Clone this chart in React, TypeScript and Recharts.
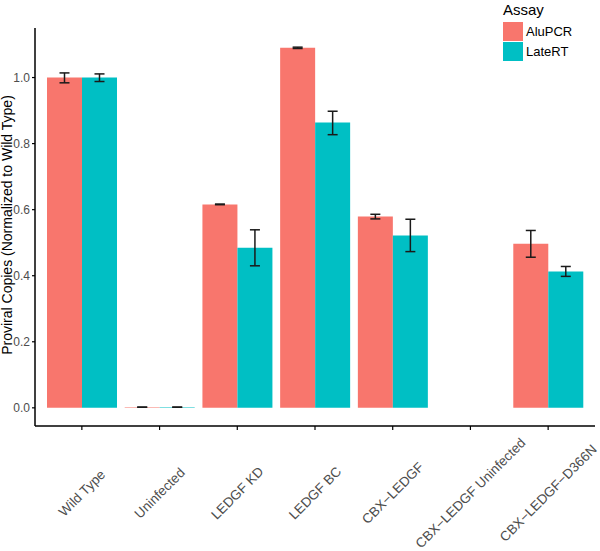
import { Bar, BarChart, ErrorBar, Legend, XAxis, YAxis } from 'recharts'

const groups = [
  'Wild Type',
  'Uninfected',
  'LEDGF KD',
  'LEDGF BC',
  'CBX\u2212LEDGF',
  'CBX\u2212LEDGF Uninfected',
  'CBX\u2212LEDGF\u2212D366N'
]

// bar heights
const aluPCR = [1.0, 0.002, 0.616, 1.09, 0.579, null, 0.497]
const lateRT = [1.0, 0.002, 0.485, 0.864, 0.522, null, 0.413]

// error bar ends [low, high]
const aluRange = [
  [0.984, 1.014],
  [0.002, 0.002],
  [0.615, 0.617],
  [1.088, 1.092],
  [0.572, 0.586],
  null,
  [0.456, 0.537]
]
const lateRange = [
  [0.988, 1.011],
  [0.002, 0.002],
  [0.43, 0.539],
  [0.827, 0.898],
  [0.473, 0.571],
  null,
  [0.398, 0.428]
]

const yTicks = [0, 0.2, 0.4, 0.6, 0.8, 1.0]

const RED = '#F8766D'
const TEAL = '#00BFC4'
const FONT = '"Liberation Sans", Arial, sans-serif'

const toErr = (v: number | null, r: number[] | null) =>
  v == null || r == null ? undefined : [v - r[0], r[1] - v]

const data = groups.map((g, i) => ({
  name: g,
  AluPCR: aluPCR[i],
  LateRT: lateRT[i],
  aluErr: toErr(aluPCR[i], aluRange[i]),
  lateErr: toErr(lateRT[i], lateRange[i])
}))

function XTick(props: any) {
  const { x, y, payload } = props
  const cy = y + 61
  return (
    <text
      x={x}
      y={cy}
      dy="0.35em"
      textAnchor="middle"
      transform={`rotate(-45, ${x}, ${cy})`}
      fill="#4D4D4D"
      fontSize={13.5}
      fontFamily={FONT}
    >
      {payload.value}
    </text>
  )
}

function LegendBox() {
  return (
    <div style={{ fontFamily: FONT, color: '#000' }}>
      <div style={{ fontSize: 15, lineHeight: '17px', marginBottom: 3 }}>Assay</div>
      {[
        ['AluPCR', RED],
        ['LateRT', TEAL]
      ].map(([label, color]) => (
        <div key={label} style={{ display: 'flex', alignItems: 'center', height: 20 }}>
          <div style={{ width: 20, height: 19, background: color, marginRight: 3 }} />
          <span style={{ fontSize: 13 }}>{label}</span>
        </div>
      ))}
    </div>
  )
}

export default function App() {
  return (
    <div style={{ position: 'absolute', left: 0, top: 0, width: 600, height: 551, background: '#fff' }}>
      <BarChart
        width={600}
        height={551}
        data={data}
        margin={{ top: 28, right: 5, left: 0, bottom: 0 }}
        barGap={0}
        barSize={35}
      >
        <XAxis
          dataKey="name"
          height={125}
          padding={{ left: 8, right: 8 }}
          axisLine={{ stroke: '#000', strokeWidth: 1.5 }}
          tickLine={{ stroke: '#000', strokeWidth: 1.2 }}
          tickSize={4}
          interval={0}
          tick={<XTick />}
        />
        <YAxis
          width={35}
          domain={[-0.055, 1.15]}
          allowDataOverflow
          ticks={yTicks}
          tickFormatter={(v: number) => v.toFixed(1)}
          axisLine={{ stroke: '#000', strokeWidth: 1.5 }}
          tickLine={{ stroke: '#000', strokeWidth: 1.2 }}
          tickSize={3}
          tick={{ fill: '#4D4D4D', fontSize: 12, fontFamily: FONT }}
          label={(p: any) => {
            const vb = p.viewBox
            const cx = 7
            const cy = vb.y + vb.height / 2 - 2
            return (
              <text
                x={cx}
                y={cy}
                dy="0.35em"
                textAnchor="middle"
                transform={`rotate(-90, ${cx}, ${cy})`}
                fill="#000"
                fontSize={14}
                fontFamily={FONT}
              >
                Proviral Copies (Normalized to Wild Type)
              </text>
            )
          }}
        />
        <Legend
          layout="horizontal"
          verticalAlign="middle"
          align="center"
          wrapperStyle={{ top: 1, left: 503, width: 95 }}
          content={() => <LegendBox />}
        />
        <Bar dataKey="AluPCR" fill={RED} isAnimationActive={false}>
          <ErrorBar dataKey="aluErr" width={5} stroke="#1a1a1a" strokeWidth={1.5} />
        </Bar>
        <Bar dataKey="LateRT" fill={TEAL} isAnimationActive={false}>
          <ErrorBar dataKey="lateErr" width={5} stroke="#1a1a1a" strokeWidth={1.5} />
        </Bar>
      </BarChart>
    </div>
  )
}
